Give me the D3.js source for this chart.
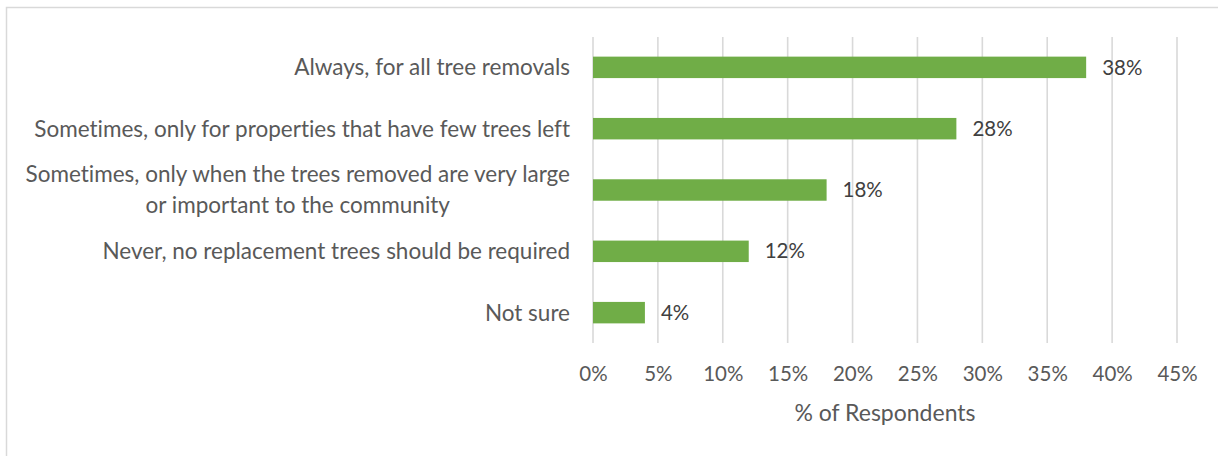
<!DOCTYPE html>
<html>
<head>
<meta charset="utf-8">
<script src="https://cdn.jsdelivr.net/npm/d3@7/dist/d3.min.js"></script>
<style>
  html, body { margin: 0; padding: 0; background: #fff; }
  svg { display: block; }
  text { font-family: Lato, "Open Sans", sans-serif; font-variant-ligatures: none; }
</style>
</head>
<body>
<svg id="chart" width="1218" height="456"></svg>
<script>
// Survey answers, top to bottom
const categories = [
  "Always, for all tree removals",
  "Sometimes, only for properties that have few trees left",
  "Sometimes, only when the trees removed are very large\nor important to the community",
  "Never, no replacement trees should be required",
  "Not sure"
];
// Share of respondents (%)
const values = [38, 28, 18, 12, 4];
// Axis ticks (%)
const tickValues = [0, 5, 10, 15, 20, 25, 30, 35, 40, 45];
const axisTitle = "% of Respondents";

const svg = d3.select("#chart");
const W = 1218, H = 456;
const plotLeft = 593, plotRight = 1177, plotTop = 37, plotBottom = 343;
const tickFont = 20.5, catFont = 22.5, titleFont = 23;

// Outer frame
svg.append("rect")
  .attr("x", 6.5).attr("y", 7.5)
  .attr("width", W + 10).attr("height", H + 10)
  .attr("fill", "#fff").attr("stroke", "#d9d9d9").attr("stroke-width", 1.5);

const x = d3.scaleLinear().domain([0, 45]).range([plotLeft, plotRight]);
const y = d3.scaleBand().domain(categories).range([plotTop, plotBottom])
  .paddingInner(0.65).paddingOuter(0.32);

// Vertical gridlines
svg.append("g").selectAll("line").data(tickValues).join("line")
  .attr("x1", d => x(d)).attr("x2", d => x(d))
  .attr("y1", plotTop).attr("y2", plotBottom)
  .attr("stroke", "#d9d9d9").attr("stroke-width", 1.6);

// Bottom axis labels (no domain line)
const xAxis = d3.axisBottom(x).tickValues(tickValues)
  .tickFormat(d => d + "%").tickSize(0).tickPadding(0);
const gx = svg.append("g").attr("transform", `translate(0,${plotBottom + 31})`).call(xAxis);
gx.select(".domain").remove();
gx.selectAll("text")
  .attr("dy", "0.35em")
  .attr("fill", "#595959")
  .style("font-size", tickFont + "px")
  .style("font-family", "Lato, 'Open Sans', sans-serif");

// Bars
svg.append("g").selectAll("rect").data(values).join("rect")
  .attr("x", x(0))
  .attr("y", (d, i) => y(categories[i]))
  .attr("width", d => x(d) - x(0))
  .attr("height", y.bandwidth())
  .attr("fill", "#70ad47");

// Value labels
svg.append("g").selectAll("text").data(values).join("text")
  .attr("x", d => x(d) + 16)
  .attr("y", (d, i) => y(categories[i]) + y.bandwidth() / 2)
  .attr("dy", "0.35em")
  .attr("fill", "#404040")
  .style("font-size", tickFont + "px")
  .text(d => d + "%");

// Category labels, right aligned as a block; wrapped lines centred within it
const labelRight = 570;
const lineH = 31;
const catG = svg.append("g");
categories.forEach((c, i) => {
  const lines = c.split("\n");
  const cy = y(c) + y.bandwidth() / 2;
  const t = catG.append("text")
    .attr("fill", "#595959")
    .style("font-size", catFont + "px");
  lines.forEach((ln, j) => {
    t.append("tspan")
      .attr("y", cy + (j - (lines.length - 1) / 2) * lineH)
      .attr("dy", "0.35em")
      .text(ln);
  });
  // measure the widest line and centre every line within the block
  const spans = t.selectAll("tspan").nodes();
  const widths = spans.map(s => s.getComputedTextLength());
  const maxW = d3.max(widths);
  const cx = labelRight - maxW / 2;
  t.selectAll("tspan").attr("x", cx).attr("text-anchor", "middle");
});

// Axis title
svg.append("text")
  .attr("x", (plotLeft + plotRight) / 2)
  .attr("y", 413)
  .attr("dy", "0.35em")
  .attr("text-anchor", "middle")
  .attr("fill", "#595959")
  .style("font-size", titleFont + "px")
  .text(axisTitle);
</script>
</body>
</html>
